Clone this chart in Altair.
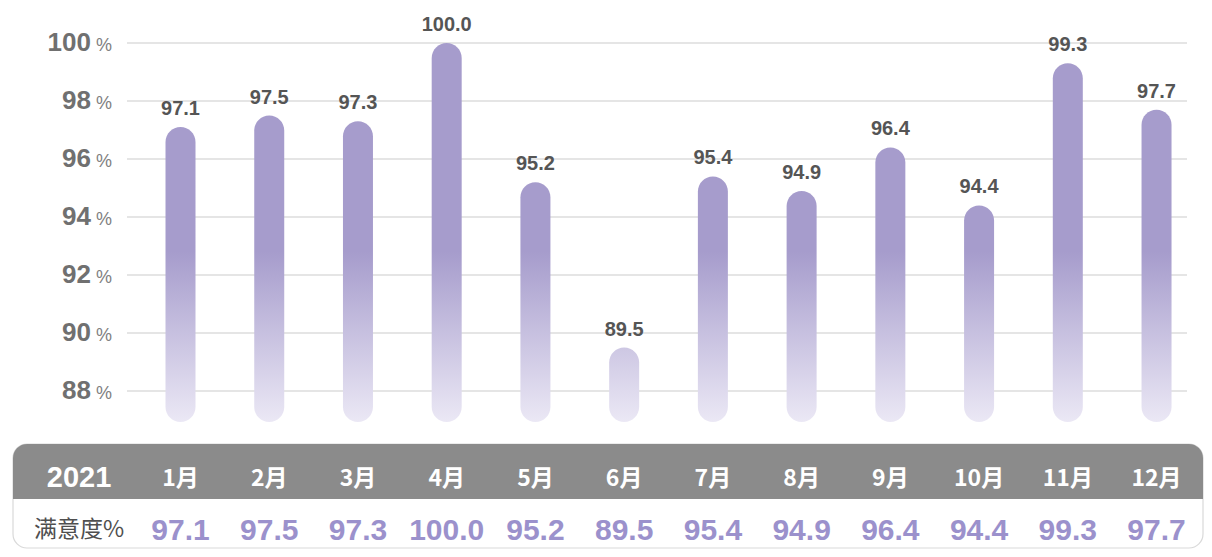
import altair as alt
import pandas as pd

# ---- data ----
months = ["1月", "2月", "3月", "4月", "5月", "6月", "7月", "8月", "9月", "10月", "11月", "12月"]
values = [97.1, 97.5, 97.3, 100.0, 95.2, 89.5, 95.4, 94.9, 96.4, 94.4, 99.3, 97.7]
y_ticks = [88, 90, 92, 94, 96, 98, 100]
year_label = "2021"
row_label = "满意度%"

# ---- style constants ----
BASE = 86.93          # bars start a little below the 88 line
FULL = 92.8           # above this level the bar colour is solid
PURPLE = "#A69CCC"
LIGHT = "#EBE8F5"
NUM_FONT = "Liberation Sans"
CJK = "Noto Sans CJK SC"

df = pd.DataFrame({"month": months, "value": values, "base": [BASE] * len(values)})
ticks = pd.DataFrame({"tick": y_ticks, "pct": ["%"] * len(y_ticks)})
one = pd.DataFrame({"k": [0]})
left = pd.DataFrame({"k": [0], "year": [year_label], "row": [row_label]})

xs = alt.Scale(domain=months, range=[128.14, 1192.9], paddingInner=0, paddingOuter=0)
ys = alt.Scale(domain=[88, 100], range=[383, 35], zero=False, nice=False)
X = alt.X("month:N", scale=xs, axis=None, sort=months)


def hex2rgb(h):
    h = h.lstrip("#")
    return [int(h[i:i + 2], 16) for i in (0, 2, 4)]


def mix(c1, c2, t):
    a, b = hex2rgb(c1), hex2rgb(c2)
    return "#" + "".join(f"{round(a[i] + (b[i] - a[i]) * t):02x}" for i in range(3))


def color_at(v):
    t = min(max((v - BASE) / (FULL - BASE), 0.0), 1.0)
    return mix(LIGHT, PURPLE, t)


layers = []

# gridlines
layers.append(
    alt.Chart(ticks).mark_rule(color="#dcdcdc", strokeWidth=1.6).encode(
        y=alt.Y("tick:Q", scale=ys, axis=None),
        x=alt.value(119), x2=alt.value(1179),
    )
)

# y labels: number + small percent sign
layers.append(
    alt.Chart(ticks).mark_text(align="right", baseline="alphabetic", dy=8,
                               font=NUM_FONT, fontWeight="bold", fontSize=26,
                               color="#707070").encode(
        y=alt.Y("tick:Q", scale=ys, axis=None), x=alt.value(83), text="tick:Q")
)
layers.append(
    alt.Chart(ticks).mark_text(align="left", baseline="alphabetic", dy=8,
                               font=NUM_FONT, fontSize=18, color="#808080").encode(
        y=alt.Y("tick:Q", scale=ys, axis=None), x=alt.value(88), text="pct:N")
)

# bars, each with a gradient matching a fade that is fixed in plot space
for m, v in zip(months, values):
    stops = [alt.GradientStop(offset=0, color=color_at(v))]
    if v > FULL:
        stops.append(alt.GradientStop(offset=(v - FULL) / (v - BASE), color=PURPLE))
    stops.append(alt.GradientStop(offset=1, color=LIGHT))
    grad = alt.Gradient(gradient="linear", stops=stops, x1=0, x2=0, y1=0, y2=1)
    layers.append(
        alt.Chart(df).transform_filter(alt.FieldEqualPredicate(field="month", equal=m))
        .mark_bar(size=30, cornerRadius=15, fill=grad)
        .encode(x=X, y=alt.Y("value:Q", scale=ys, axis=None), y2="base:Q")
    )

# value labels above bars
layers.append(
    alt.Chart(df).mark_text(baseline="alphabetic", dy=-12, font=NUM_FONT,
                            fontWeight="bold", fontSize=20, color="#555555").encode(
        x=X, y=alt.Y("value:Q", scale=ys, axis=None), text=alt.Text("value:Q", format=".1f"))
)

# table underneath
layers.append(
    alt.Chart(one).mark_rect(fill="white", stroke="#d9d9d9", strokeWidth=1.2,
                             cornerRadius=14).encode(
        x=alt.value(5), x2=alt.value(1195), y=alt.value(436), y2=alt.value(540))
)
layers.append(
    alt.Chart(one).mark_rect(fill="#8b8b8b", cornerRadiusTopLeft=14,
                             cornerRadiusTopRight=14).encode(
        x=alt.value(5), x2=alt.value(1195), y=alt.value(436), y2=alt.value(491))
)
layers.append(
    alt.Chart(left).mark_text(baseline="alphabetic", font=NUM_FONT, fontWeight="bold",
                              fontSize=29, color="white").encode(
        x=alt.value(71), y=alt.value(479), text="year:N")
)
layers.append(
    alt.Chart(left).mark_text(baseline="alphabetic", font=CJK, fontSize=23,
                              color="#4f4f4f").encode(
        x=alt.value(71), y=alt.value(529), text="row:N")
)
layers.append(
    alt.Chart(df).mark_text(baseline="alphabetic", font=CJK, fontWeight="bold",
                            fontSize=23, color="white").encode(
        x=X, y=alt.value(478), text="month:N")
)
layers.append(
    alt.Chart(df).mark_text(baseline="alphabetic", font=NUM_FONT, fontWeight="bold",
                            fontSize=30, color="#9B91CC").encode(
        x=X, y=alt.value(532), text=alt.Text("value:Q", format=".1f"))
)

chart = alt.layer(*layers).properties(
    width=1196, height=541,
    autosize=alt.AutoSizeParams(type="none"),
    padding=0,
).configure_view(stroke=None)

chart.save("out.html", embed_options={"renderer": "svg", "actions": False})
